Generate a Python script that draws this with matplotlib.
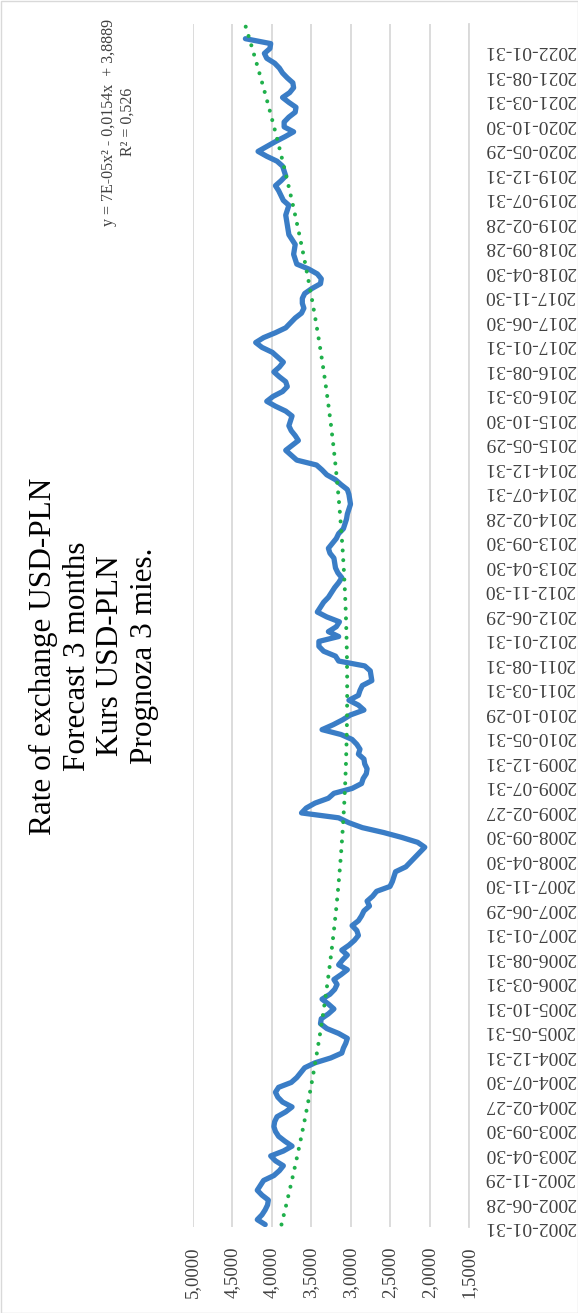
import numpy as np
import pandas as pd
import matplotlib
matplotlib.use('Agg')
import matplotlib.pyplot as plt
from matplotlib.patches import Rectangle

plt.rcParams['font.family'] = 'Liberation Serif'

# Monthly USD-PLN rate, end of month, 2002-01 .. 2022-03
rate_2002 = [4.08, 4.18, 4.12, 4.08, 4.05, 4.04, 4.12, 4.18, 4.14, 4.10, 3.97, 3.90]
rate_2003 = [3.85, 3.95, 4.01, 3.85, 3.74, 3.83, 3.91, 3.95, 3.97, 3.96, 3.93, 3.82]
rate_2004 = [3.74, 3.86, 3.92, 3.95, 3.91, 3.75, 3.68, 3.63, 3.58, 3.45, 3.25, 3.11]
rate_2005 = [3.09, 3.06, 3.04, 3.15, 3.30, 3.38, 3.37, 3.28, 3.21, 3.28, 3.36, 3.26]
rate_2006 = [3.20, 3.17, 3.21, 3.12, 3.04, 3.15, 3.10, 3.04, 3.11, 3.02, 2.95, 2.90]
rate_2007 = [2.92, 2.98, 2.90, 2.86, 2.83, 2.76, 2.79, 2.72, 2.67, 2.50, 2.47, 2.45]
rate_2008 = [2.43, 2.30, 2.24, 2.18, 2.12, 2.06, 2.15, 2.35, 2.58, 2.85, 3.02, 3.15]
rate_2009 = [3.62, 3.56, 3.45, 3.28, 3.21, 2.98, 2.86, 2.84, 2.80, 2.79, 2.82, 2.83]
rate_2010 = [2.90, 2.88, 2.92, 2.98, 3.12, 3.36, 3.22, 3.10, 3.00, 2.83, 2.90, 3.02]
rate_2011 = [2.90, 2.88, 2.85, 2.73, 2.74, 2.75, 2.82, 3.15, 3.19, 3.34, 3.40, 3.40]
rate_2012 = [3.15, 3.28, 3.18, 3.14, 3.30, 3.42, 3.38, 3.34, 3.28, 3.24, 3.20, 3.15]
rate_2013 = [3.11, 3.16, 3.19, 3.20, 3.21, 3.26, 3.28, 3.23, 3.18, 3.15, 3.09, 3.07]
rate_2014 = [3.05, 3.04, 3.02, 3.00, 3.01, 3.02, 3.04, 3.12, 3.19, 3.30, 3.36, 3.43]
rate_2015 = [3.68, 3.75, 3.82, 3.74, 3.66, 3.70, 3.75, 3.78, 3.76, 3.74, 3.82, 3.95]
rate_2016 = [4.06, 3.98, 3.86, 3.80, 3.82, 3.90, 3.97, 3.90, 3.85, 3.92, 3.99, 4.12]
rate_2017 = [4.20, 4.10, 3.95, 3.82, 3.76, 3.70, 3.62, 3.59, 3.61, 3.61, 3.58, 3.49]
rate_2018 = [3.38, 3.37, 3.42, 3.53, 3.68, 3.70, 3.72, 3.71, 3.70, 3.74, 3.78, 3.79]
rate_2019 = [3.80, 3.81, 3.82, 3.80, 3.78, 3.85, 3.88, 3.91, 3.95, 3.88, 3.82, 3.84]
rate_2020 = [3.86, 3.93, 4.06, 4.17, 4.06, 3.95, 3.83, 3.72, 3.84, 3.84, 3.78, 3.70]
rate_2021 = [3.69, 3.78, 3.86, 3.77, 3.72, 3.73, 3.80, 3.86, 3.90, 3.96, 4.06, 4.09]
rate_2022 = [4.02, 4.01, 4.33]

rate = np.array(rate_2002 + rate_2003 + rate_2004 + rate_2005 + rate_2006 + rate_2007
                + rate_2008 + rate_2009 + rate_2010 + rate_2011 + rate_2012 + rate_2013
                + rate_2014 + rate_2015 + rate_2016 + rate_2017 + rate_2018 + rate_2019
                + rate_2020 + rate_2021 + rate_2022)
n = len(rate)

# last business day of every month
try:
    dates = pd.date_range('2002-01-31', periods=n, freq='BME')
except ValueError:
    dates = pd.date_range('2002-01-31', periods=n, freq='BM')
date_labels = [d.strftime('%Y-%m-%d') for d in dates]
label_step = 5

# polynomial trend y = a*x^2 + b*x + c, x = 1..n, forecast 3 periods forward
trend_a, trend_b, trend_c = 7e-05, -0.0154, 3.8889
r_squared = 0.526
forecast = 3

value_ticks = [5.0, 4.5, 4.0, 3.5, 3.0, 2.5, 2.0, 1.5]

W, H = 578, 1313
fig = plt.figure(figsize=(W / 100, H / 100), dpi=100)

# plot area in pixels (left, top, right, bottom)
pl, pt, pr, pb = 192.5, 24, 469, 1227
ax = fig.add_axes([pl / W, 1 - pb / H, (pr - pl) / W, (pb - pt) / H])

idx = np.arange(1, n + 1)
ax.plot(rate, idx, color='#3a7dc6', lw=3.8, solid_joinstyle='round',
        solid_capstyle='round', zorder=3)

xt = np.linspace(1, n + forecast, 400)
yt = trend_a * xt ** 2 + trend_b * xt + trend_c
ax.plot(yt, xt, color='#1fb04b', lw=2.9, linestyle=(0, (0.01, 2.4)),
        dash_capstyle='round', zorder=4)

ax.set_xlim(5.0, 1.5)
ax.set_ylim(0.5, n + forecast)

ax.set_xticks(value_ticks)
ax.set_xticklabels([f'{v:.4f}'.replace('.', ',') for v in value_ticks],
                   rotation=90, fontsize=13.5, color='#404040')
ax.set_yticks(idx[::label_step])
ax.set_yticklabels(date_labels[::label_step], rotation=180, fontsize=14,
                   color='#404040')
ax.yaxis.tick_right()
ax.tick_params(axis='both', length=0)
ax.tick_params(axis='x', pad=14)
ax.tick_params(axis='y', pad=11)

ax.grid(axis='x', color='#d9d9d9', lw=1.3)
ax.set_axisbelow(True)
for pos in ['top', 'bottom', 'left']:
    ax.spines[pos].set_visible(False)
ax.spines['right'].set_color('#d9d9d9')
ax.spines['right'].set_linewidth(1.3)

# trend line equation
eq = (f'y = {trend_a:.0E}x² - {abs(trend_b):.4f}x  + {trend_c:.4f}'.replace('.', ',')
      + '\n' + f'R² = {r_squared:.3f}'.replace('.', ','))
fig.text(118 / W, 1 - 122 / H, eq, rotation=90, ha='center', va='center',
         multialignment='center', fontsize=11.5, color='#404040')

title = 'Rate of exchange USD-PLN\nForecast 3 months\nKurs USD-PLN\nPrognoza 3 mies.'
fig.text(94 / W, 1 - 656 / H, title, rotation=90, ha='center', va='center',
         multialignment='center', fontsize=22.5, color='black')

# chart area border
fig.patches.append(Rectangle((0.5 / W, 0.5 / H), 1 - 1 / W, 1 - 1 / H,
                             transform=fig.transFigure, fill=False,
                             edgecolor='#d9d9d9', lw=1))

fig.savefig('out.png', dpi=100)
